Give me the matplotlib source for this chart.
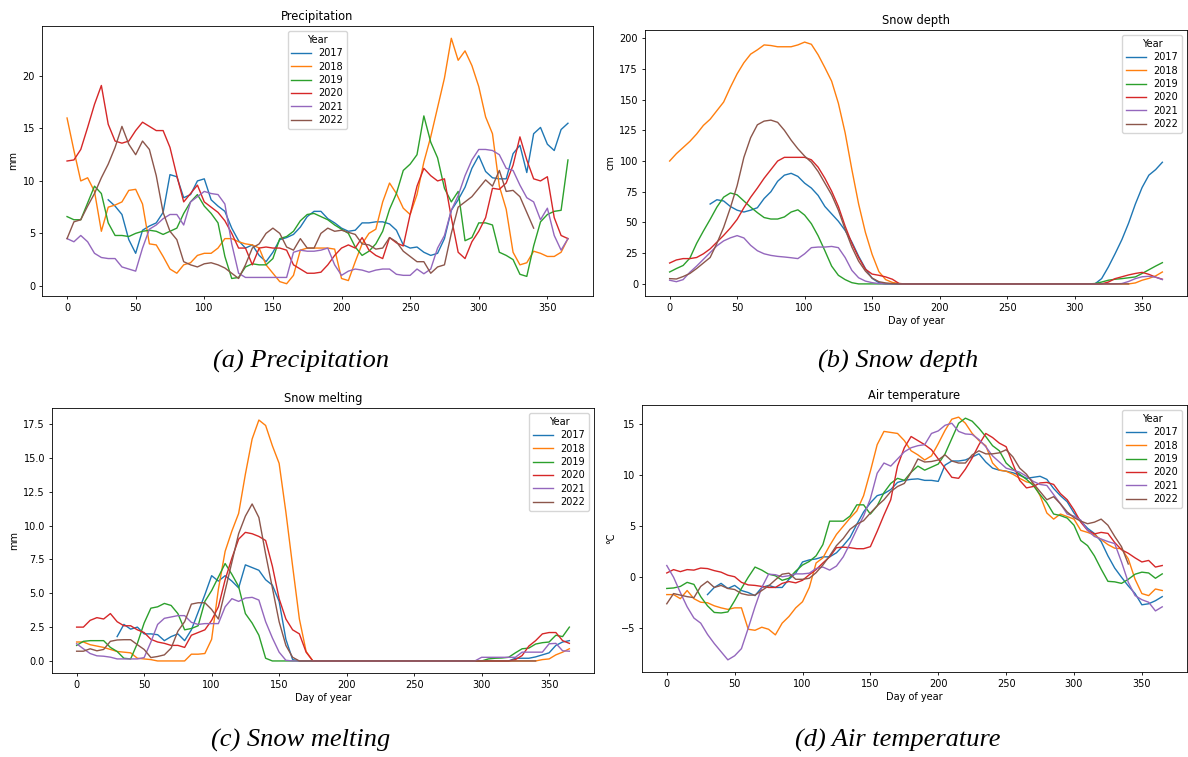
import numpy as np
import matplotlib
matplotlib.use("Agg")
import matplotlib.pyplot as plt

# ---------------------------------------------------------------- data ----
# values read every 5 days; 2017 starts at day 30, 2022 stops at day 340
YEARS = [2017, 2018, 2019, 2020, 2021, 2022]
STEP = 5
START = {2017: 30, 2018: 0, 2019: 0, 2020: 0, 2021: 0, 2022: 0}

PRECIP_2017 = [8.2, 7.6, 6.8, 4.4, 3.1, 5.3, 5.7, 6.0, 7.0, 10.6,
               10.4, 8.4, 8.7, 10.0, 10.2, 8.2, 7.6, 7.1, 5.5, 4.3,
               3.6, 3.9, 2.9, 2.3, 3.2, 4.4, 4.6, 4.9, 5.6, 6.6,
               7.1, 7.1, 6.4, 6.0, 5.5, 5.2, 5.3, 6.0, 6.0, 6.1,
               6.1, 5.9, 5.3, 3.9, 3.6, 3.7, 3.2, 2.9, 3.1, 4.5,
               7.2, 8.2, 9.4, 11.2, 12.4, 10.9, 10.3, 10.2, 10.2, 12.6,
               13.4, 10.8, 14.5, 15.1, 13.5, 12.9, 14.9, 15.5]
PRECIP_2018 = [16.0, 12.9, 10.0, 10.3, 9.0, 5.2, 7.5, 7.7, 8.0, 9.1,
               9.2, 7.8, 4.0, 3.9, 2.8, 1.6, 1.2, 2.0, 2.2, 2.9,
               3.1, 3.1, 3.6, 4.5, 4.5, 4.2, 4.0, 3.9, 3.6, 2.0,
               1.2, 0.4, 0.2, 1.0, 3.4, 3.6, 3.6, 3.6, 3.6, 3.5,
               0.7, 0.5, 2.3, 4.0, 5.0, 5.4, 8.0, 9.8, 8.8, 7.4,
               6.8, 8.7, 11.8, 14.2, 17.0, 19.8, 23.6, 21.5, 22.4, 21.0,
               19.0, 16.1, 14.5, 9.5, 7.3, 3.2, 2.0, 2.2, 3.3, 3.1,
               2.8, 2.8, 3.2, 4.5]
PRECIP_2019 = [6.6, 6.3, 6.3, 7.9, 9.5, 8.8, 6.0, 4.8, 4.8, 4.7,
               5.0, 5.2, 5.3, 5.2, 4.9, 5.2, 5.5, 6.9, 8.0, 8.7,
               7.6, 6.9, 6.0, 2.8, 0.7, 0.8, 1.8, 2.1, 2.0, 2.0,
               2.6, 4.5, 4.7, 5.2, 6.2, 6.8, 6.9, 6.6, 6.3, 5.8,
               5.4, 5.0, 3.7, 2.9, 3.3, 4.0, 5.2, 7.3, 8.8, 11.0,
               11.6, 12.5, 16.2, 13.7, 12.2, 9.3, 8.0, 9.0, 4.3, 4.6,
               6.0, 6.0, 5.8, 3.2, 2.9, 2.5, 1.1, 0.9, 3.8, 6.1,
               6.8, 7.1, 7.2, 12.0]
PRECIP_2020 = [11.9, 12.0, 13.0, 15.1, 17.3, 19.1, 15.4, 13.8, 13.6, 13.8,
               14.8, 15.6, 15.2, 14.8, 14.8, 13.2, 10.5, 8.0, 8.8, 9.6,
               8.0, 7.5, 7.0, 6.2, 5.0, 3.6, 3.6, 2.0, 3.6, 3.7,
               3.6, 3.6, 3.4, 2.0, 1.6, 1.2, 1.2, 1.3, 2.0, 2.9,
               3.6, 3.9, 3.6, 4.6, 3.4, 2.9, 2.6, 4.6, 4.1, 3.8,
               6.8, 9.5, 11.2, 10.5, 10.0, 10.2, 6.5, 3.2, 2.6, 4.2,
               5.2, 6.5, 9.3, 9.2, 9.8, 11.5, 14.2, 12.0, 10.2, 10.0,
               10.4, 6.5, 4.8, 4.5]
PRECIP_2021 = [4.5, 4.2, 4.8, 4.2, 3.1, 2.7, 2.6, 2.6, 1.8, 1.6,
               1.4, 3.6, 5.4, 5.8, 6.4, 6.8, 6.8, 5.8, 8.0, 8.5,
               9.0, 8.8, 8.7, 7.8, 4.0, 1.2, 0.8, 0.8, 0.8, 0.8,
               0.8, 0.8, 0.8, 3.2, 3.4, 3.3, 3.3, 3.4, 3.6, 2.0,
               1.0, 1.4, 1.6, 1.5, 1.3, 1.5, 1.6, 1.6, 1.1, 1.0,
               1.0, 1.6, 1.15, 1.6, 3.6, 4.8, 7.2, 8.6, 10.5, 12.0,
               13.0, 13.0, 12.9, 12.5, 11.2, 11.0, 9.6, 8.4, 8.0, 6.3,
               7.4, 4.8, 3.4, 4.5]
PRECIP_2022 = [4.5, 6.1, 6.3, 7.6, 8.8, 10.3, 11.6, 13.2, 15.2, 13.5,
               12.5, 13.8, 13.0, 10.5, 7.0, 5.2, 4.4, 2.3, 2.0, 1.8,
               2.1, 2.2, 2.0, 1.7, 1.2, 0.7, 2.0, 3.6, 4.0, 5.0,
               5.5, 5.0, 3.7, 3.4, 4.5, 3.6, 3.6, 5.0, 5.5, 5.2,
               5.3, 5.1, 4.9, 4.0, 3.9, 3.5, 3.6, 4.6, 4.2, 3.3,
               2.8, 2.3, 2.3, 1.2, 1.8, 2.0, 5.0, 7.5, 8.0, 8.5,
               9.3, 10.1, 9.5, 11.0, 9.0, 9.1, 8.5, 7.0, 5.5]

DEPTH_2017 = [65, 68.5, 67.5, 63, 60, 58.5, 60, 62, 69.5, 75,
              83.5, 88.5, 90, 87.5, 82, 78, 72, 63, 57, 51,
              43.5, 34, 22.5, 12.5, 4.5, 1, 0, 0, 0, 0,
              0, 0, 0, 0, 0, 0, 0, 0, 0, 0,
              0, 0, 0, 0, 0, 0, 0, 0, 0, 0,
              0, 0, 0, 0, 0, 0, 0, 0, 4.3, 13.8,
              24.6, 36, 49.5, 65, 78.5, 88.5, 93, 99]
DEPTH_2018 = [100, 106, 111, 116, 122, 129, 134, 141, 148, 160,
              171, 180, 187, 190.5, 194.5, 194, 193, 193, 193, 194.5,
              196.8, 195, 186.5, 176, 165, 147, 123, 93, 65, 42,
              24, 10, 3.5, 1.2, 0.3, 0, 0, 0, 0, 0,
              0, 0, 0, 0, 0, 0, 0, 0, 0, 0,
              0, 0, 0, 0, 0, 0, 0, 0, 0, 0,
              0, 0, 0, 0, 0, 0, 0, 0, 0, 0.8,
              3, 4.5, 6.5, 9.7]
DEPTH_2019 = [9.7, 12.5, 15, 21, 33, 43, 52.5, 62.5, 70.6, 74,
              72.5, 67.5, 62.5, 58, 54, 52.8, 52.8, 54.5, 58.5, 60.3,
              56, 49, 39, 27, 14.5, 7, 3.5, 1, 0, 0,
              0, 0, 0, 0, 0, 0, 0, 0, 0, 0,
              0, 0, 0, 0, 0, 0, 0, 0, 0, 0,
              0, 0, 0, 0, 0, 0, 0, 0, 0, 0,
              0, 0, 0, 0.3, 1.5, 3, 3.8, 4.3, 5, 5.7,
              8.5, 11.5, 14.5, 17.3]
DEPTH_2020 = [17, 19.5, 20.6, 20.6, 21.5, 24.5, 28.5, 34, 39.5, 45.5,
              52.5, 62, 70.5, 78, 86, 93, 100, 103, 103, 103,
              103, 101, 95, 86, 75.5, 63, 47, 33, 21.5, 12,
              8, 7, 5.7, 3.8, 0.3, 0, 0, 0, 0, 0,
              0, 0, 0, 0, 0, 0, 0, 0, 0, 0,
              0, 0, 0, 0, 0, 0, 0, 0, 0, 0,
              0, 0, 0, 0, 0, 1.5, 4.3, 5.8, 7.3, 8.5,
              9.4, 7.8, 5.5, 3.8]
DEPTH_2021 = [3, 1.8, 3.5, 9.5, 14.5, 20, 25.5, 31, 35, 37.5,
              39.3, 37.4, 31.4, 27, 24.5, 23.2, 22.4, 21.9, 21.3, 20.6,
              24.5, 29.5, 30, 30, 30.5, 29.5, 21.5, 11, 5, 2.3,
              1, 0.3, 0, 0, 0, 0, 0, 0, 0, 0,
              0, 0, 0, 0, 0, 0, 0, 0, 0, 0,
              0, 0, 0, 0, 0, 0, 0, 0, 0, 0,
              0, 0, 0, 0, 0, 0, 0, 0.3, 2, 4.3,
              5.8, 6.2, 5.5, 3.5]
DEPTH_2022 = [4.3, 4.0, 6.0, 8.5, 12.5, 17, 21.5, 33, 46, 62,
              80, 103, 119, 129.5, 132.5, 133.3, 131.5, 125, 117, 110,
              104, 99, 91.5, 82, 72.5, 60, 44.5, 30, 18.5, 10.5,
              4.8, 1.8, 0.8, 0.3, 0, 0, 0, 0, 0, 0,
              0, 0, 0, 0, 0, 0, 0, 0, 0, 0,
              0, 0, 0, 0, 0, 0, 0, 0, 0, 0,
              0, 0, 0, 0, 0, 0, 0, 0, 0]

MELT_2017 = [1.8, 2.7, 2.35, 2.5, 2.0, 2.0, 1.94, 1.5, 1.8, 2.0,
             1.5, 2.3, 3.6, 4.9, 6.3, 5.9, 6.3, 5.9, 5.4, 7.1,
             6.9, 6.7, 6.0, 5.6, 4.4, 1.6, 0.1, 0, 0, 0,
             0, 0, 0, 0, 0, 0, 0, 0, 0, 0,
             0, 0, 0, 0, 0, 0, 0, 0, 0, 0,
             0, 0, 0, 0, 0, 0, 0, 0, 0, 0.2,
             0.2, 0.2, 0.3, 0.45, 0.6, 1.15, 1.4, 1.5]
MELT_2018 = [1.4, 1.4, 1.2, 1.1, 1.0, 0.85, 0.7, 0.65, 0.6, 0.2,
             0.15, 0.1, 0, 0, 0, 0, 0, 0.5, 0.5, 0.55,
             1.6, 5.3, 8.1, 9.6, 10.9, 13.8, 16.4, 17.8, 17.4, 15.9,
             14.6, 11.0, 7.0, 3.1, 0.7, 0, 0, 0, 0, 0,
             0, 0, 0, 0, 0, 0, 0, 0, 0, 0,
             0, 0, 0, 0, 0, 0, 0, 0, 0, 0,
             0, 0, 0, 0, 0, 0, 0, 0, 0, 0.1,
             0.15, 0.45, 0.65, 0.9]
MELT_2019 = [1.15, 1.45, 1.5, 1.5, 1.5, 1.0, 0.7, 0.2, 0.15, 1.3,
             2.8, 3.9, 4.0, 4.25, 4.1, 3.5, 2.3, 2.4, 2.6, 4.4,
             5.2, 6.2, 7.2, 6.4, 5.5, 3.5, 2.8, 1.9, 0.2, 0,
             0, 0, 0, 0, 0, 0, 0, 0, 0, 0,
             0, 0, 0, 0, 0, 0, 0, 0, 0, 0,
             0, 0, 0, 0, 0, 0, 0, 0, 0, 0,
             0, 0.15, 0.2, 0.22, 0.27, 0.6, 0.9, 0.95, 1.25, 1.35,
             1.4, 1.9, 1.8, 2.5]
MELT_2020 = [2.5, 2.5, 3.0, 3.2, 3.1, 3.5, 2.9, 2.6, 2.6, 2.3,
             2.1, 1.6, 1.4, 1.3, 1.15, 1.15, 1.0, 1.9, 2.1, 2.3,
             3.0, 4.0, 6.0, 7.6, 9.0, 9.5, 9.4, 9.2, 8.9, 7.0,
             4.6, 3.1, 2.3, 2.0, 0.65, 0, 0, 0, 0, 0,
             0, 0, 0, 0, 0, 0, 0, 0, 0, 0,
             0, 0, 0, 0, 0, 0, 0, 0, 0, 0,
             0, 0, 0, 0, 0, 0.1, 0.4, 1.1, 1.5, 2.0,
             2.1, 2.1, 1.5, 1.3]
MELT_2021 = [1.27, 0.9, 0.55, 0.38, 0.35, 0.28, 0.15, 0.15, 0.15, 0.15,
             0.25, 1.4, 2.7, 3.15, 3.25, 3.35, 3.35, 2.85, 2.7, 2.76,
             2.76, 2.76, 4.0, 4.6, 4.4, 4.65, 4.7, 4.5, 2.9, 1.7,
             0.65, 0.05, 0, 0, 0, 0, 0, 0, 0, 0,
             0, 0, 0, 0, 0, 0, 0, 0, 0, 0,
             0, 0, 0, 0, 0, 0, 0, 0, 0, 0,
             0.27, 0.27, 0.27, 0.27, 0.27, 0.27, 0.65, 0.65, 0.65, 0.65,
             1.27, 1.3, 0.75, 0.72]
MELT_2022 = [0.72, 0.72, 0.9, 0.75, 0.85, 1.45, 1.55, 1.57, 1.57, 1.2,
             0.85, 0.25, 0.33, 0.45, 0.95, 2.2, 2.9, 4.2, 4.3, 4.3,
             3.8, 3.1, 5.2, 7.3, 9.4, 10.7, 11.6, 10.6, 7.9, 5.4,
             2.9, 1.15, 0.27, 0, 0, 0, 0, 0, 0, 0,
             0, 0, 0, 0, 0, 0, 0, 0, 0, 0,
             0, 0, 0, 0, 0, 0, 0, 0, 0, 0,
             0, 0, 0, 0, 0, 0, 0, 0, 0]

TEMP_2017 = [-1.7, -1.0, -0.6, -1.1, -0.8, -1.3, -1.5, -1.8, -1.0, -0.8,
             -1.0, -1.0, -0.2, 0.4, 1.5, 1.7, 1.8, 2.0, 2.0, 2.4,
             3.1, 3.9, 5.2, 6.4, 7.3, 8.0, 8.2, 8.6, 9.3, 9.5,
             9.6, 9.65, 9.5, 9.5, 9.4, 11.0, 11.4, 11.4, 11.5, 11.8,
             12.1, 11.3, 10.7, 10.5, 10.4, 10.25, 10.0, 9.7, 9.8, 9.9,
             9.6, 8.7, 8.0, 7.4, 6.3, 5.5, 4.8, 4.3, 3.5, 2.1,
             0.9, 0.0, -0.85, -1.6, -2.7, -2.6, -2.3, -1.9]
TEMP_2018 = [-1.7, -1.7, -2.1, -1.3, -2.1, -2.45, -2.5, -2.8, -3.0, -3.15,
             -3.0, -3.0, -5.1, -5.2, -4.9, -5.1, -5.65, -4.5, -3.85, -3.0,
             -2.4, -1.0, 1.4, 1.9, 3.1, 4.2, 5.0, 5.8, 6.5, 8.0,
             10.4, 13.0, 14.3, 14.2, 14.1, 13.4, 12.4, 12.0, 11.5, 11.9,
             13.1, 14.4, 15.5, 15.7, 15.1, 14.1, 13.4, 12.9, 11.2, 10.5,
             10.4, 10.1, 9.7, 9.35, 9.2, 8.0, 6.3, 5.7, 6.2, 5.95,
             5.7, 4.6, 4.4, 4.15, 3.7, 3.2, 2.85, 2.8, 1.8, -0.2,
             -1.6, -1.8, -1.15, -1.3]
TEMP_2019 = [-1.1, -1.05, -0.9, -0.5, -0.7, -1.9, -2.8, -3.45, -3.5, -3.4,
             -2.3, -1.1, 0.0, 1.0, 0.7, 0.3, 0.15, -0.3, -0.1, 0.6,
             1.2, 1.55, 2.1, 3.2, 5.5, 5.5, 5.5, 6.0, 7.1, 7.1,
             6.2, 7.0, 8.3, 9.2, 9.7, 9.5, 10.3, 10.9, 10.5, 10.8,
             11.1, 12.1, 13.6, 15.1, 15.6, 15.3, 14.6, 13.8, 12.9, 12.4,
             11.2, 10.6, 10.1, 9.6, 9.0, 8.1, 7.3, 6.2, 6.05, 5.8,
             5.1, 3.6, 3.1, 2.1, 0.8, -0.4, -0.45, -0.6, -0.2, 0.3,
             0.5, 0.42, -0.1, 0.33]
TEMP_2020 = [0.42, 0.75, 0.55, 0.75, 0.7, 0.9, 0.85, 0.65, 0.5, 0.2,
             0.05, -0.5, -0.75, -0.8, -0.9, -1.0, -1.0, -0.6, -0.42, -0.55,
             -0.3, 0.25, 0.75, 1.4, 2.0, 2.9, 2.95, 2.9, 2.8, 2.8,
             3.0, 4.5, 6.1, 7.6, 10.9, 12.7, 13.8, 13.4, 13.0, 12.5,
             11.6, 10.7, 9.8, 9.7, 10.6, 11.7, 13.0, 14.1, 13.7, 13.15,
             12.8, 11.1, 9.5, 8.76, 8.9, 9.25, 9.3, 9.1, 8.2, 7.6,
             6.6, 5.4, 4.6, 4.25, 4.4, 4.3, 3.4, 2.7, 2.35, 1.9,
             1.5, 1.65, 1.0, 1.15]
TEMP_2021 = [1.15, 0.0, -1.5, -2.9, -4.0, -4.5, -5.6, -6.5, -7.3, -8.1,
             -7.7, -7.0, -5.0, -2.9, -1.0, 0.3, 0.25, 0.05, 0.15, 0.33,
             0.33, 0.4, 0.85, 1.0, 0.7, 1.1, 2.0, 3.3, 4.7, 6.0,
             7.7, 10.2, 11.2, 10.9, 11.6, 12.3, 12.7, 12.9, 13.0, 14.1,
             14.35, 14.9, 15.1, 14.3, 14.05, 14.0, 13.5, 12.8, 11.9, 11.3,
             10.7, 10.5, 10.3, 9.9, 9.4, 9.1, 9.0, 8.1, 7.2, 6.2,
             6.0, 5.6, 4.6, 4.0, 3.75, 3.5, 3.3, 1.5, -0.5, -1.8,
             -2.2, -2.45, -3.3, -2.9]
TEMP_2022 = [-2.6, -1.6, -1.75, -1.9, -2.0, -0.9, -0.4, -1.0, -0.8, -1.1,
             -1.2, -1.6, -1.75, -1.75, -1.3, -0.85, -0.25, 0.3, 0.4, -0.2,
             -0.2, -0.1, 0.45, 1.2, 2.1, 3.1, 3.8, 4.7, 5.2, 5.55,
             6.3, 7.0, 7.6, 8.4, 8.9, 9.2, 10.3, 11.6, 11.3, 11.35,
             11.5, 12.0, 11.4, 11.2, 11.2, 12.0, 12.4, 12.1, 12.1, 12.2,
             12.5, 11.8, 10.7, 10.1, 9.2, 8.4, 7.6, 7.9, 7.2, 6.4,
             5.85, 5.5, 5.25, 5.4, 5.7, 5.1, 4.0, 3.0, 1.3]

PANELS = [
    ("Precipitation", "mm", "(a) Precipitation", False, "upper center",
     [PRECIP_2017, PRECIP_2018, PRECIP_2019, PRECIP_2020, PRECIP_2021, PRECIP_2022]),
    ("Snow depth", "cm", "(b) Snow depth", True, "upper right",
     [DEPTH_2017, DEPTH_2018, DEPTH_2019, DEPTH_2020, DEPTH_2021, DEPTH_2022]),
    ("Snow melting", "mm", "(c) Snow melting", True, "upper right",
     [MELT_2017, MELT_2018, MELT_2019, MELT_2020, MELT_2021, MELT_2022]),
    ("Air temperature", "°C", "(d) Air temperature", True, "upper right",
     [TEMP_2017, TEMP_2018, TEMP_2019, TEMP_2020, TEMP_2021, TEMP_2022]),
]

# axes boxes in pixels: left, top, right, bottom (figure is 1188 x 757)
W, H = 1188, 757
BOXES = [(42, 26, 593, 296), (645, 30, 1187, 296),
         (52, 408, 594, 673), (642, 405, 1187, 672)]
CAPTION_XY = [(301, 361), (898, 361), (301, 740), (898, 740)]

plt.rcParams.update({
    "font.family": "DejaVu Sans",
    "font.size": 7,
    "axes.linewidth": 0.6,
    "xtick.major.width": 0.6,
    "ytick.major.width": 0.6,
    "xtick.major.size": 2.5,
    "ytick.major.size": 2.5,
    "xtick.major.pad": 2.5,
    "ytick.major.pad": 2.5,
    "xtick.labelsize": 7,
    "ytick.labelsize": 7,
})

fig = plt.figure(figsize=(W / 100, H / 100), dpi=100)

for (title, ylab, caption, xlab, loc, series), (l, t, r, b), (cx, cy) in zip(
        PANELS, BOXES, CAPTION_XY):
    ax = fig.add_axes([l / W, 1 - b / H, (r - l) / W, (b - t) / H])
    for year, vals in zip(YEARS, series):
        days = START[year] + STEP * np.arange(len(vals))
        ax.plot(days, vals, lw=1.0, label=str(year))
    ax.set_title(title, fontsize=8.3, pad=4)
    ax.set_ylabel(ylab, fontsize=7, labelpad=3)
    if xlab:
        ax.set_xlabel("Day of year", fontsize=7, labelpad=2)
    ax.set_xticks([0, 50, 100, 150, 200, 250, 300, 350])
    ax.legend(title="Year", loc=loc, fontsize=7, title_fontsize=7,
              handlelength=2.0, borderpad=0.4, labelspacing=0.35)
    fig.text(cx / W, 1 - cy / H, caption, ha="center", va="center",
             family="Liberation Serif", style="italic", fontsize=19)

fig.savefig("out.png", dpi=100)
